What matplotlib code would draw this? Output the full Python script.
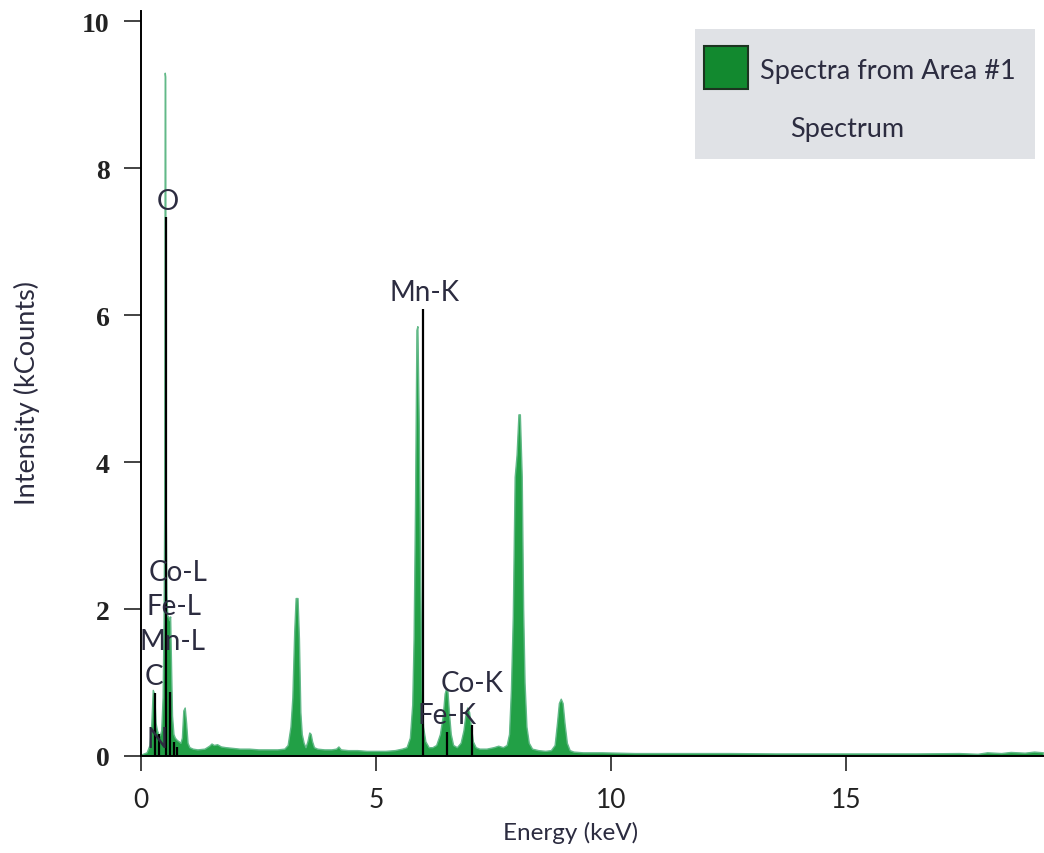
"""
EDS spectrum (Spectra from Area #1) -- intensity vs energy with element markers.
"""

import matplotlib
matplotlib.use("Agg")
import matplotlib.pyplot as plt
from matplotlib.patches import Rectangle

# ---------- Spectrum outline (keV, kCounts) ----------
energy_kev = [
    # C, O, L-lines region
    0.00, 0.12, 0.18, 0.22, 0.25, 0.28, 0.31, 0.34, 0.37, 0.40, 0.43, 0.46, 0.48, 0.495, 0.505, 0.515, 0.525, 0.54, 0.56, 0.58,
    0.60, 0.62, 0.64, 0.66, 0.69, 0.72, 0.76, 0.80, 0.84, 0.87, 0.90, 0.93, 0.96, 0.99, 1.03,
    # background up to the 3.3 keV peak
    1.10, 1.20, 1.35, 1.45, 1.50, 1.55, 1.62, 1.70, 1.80, 1.95, 2.10, 2.30, 2.50, 2.70, 2.90, 3.05,
    # 3.3 keV peak and its shoulder
    3.12, 3.18, 3.22, 3.26, 3.29, 3.33, 3.36, 3.39, 3.42, 3.46, 3.50, 3.54, 3.58, 3.61, 3.64, 3.68, 3.75, 3.90, 4.05, 4.15, 4.20, 4.25,
    # Mn K-alpha
    4.40, 4.60, 4.80, 5.00, 5.20, 5.40, 5.55, 5.65, 5.72, 5.77, 5.80, 5.83, 5.86, 5.88, 5.91, 5.94, 5.97, 6.00, 6.05, 6.12,
    # 6.5 and 6.95 keV peaks
    6.20, 6.28, 6.36, 6.42, 6.46, 6.49, 6.52, 6.55, 6.59, 6.64, 6.72, 6.80, 6.86, 6.90, 6.94, 6.98, 7.02, 7.06, 7.12, 7.20, 7.35,
    # 8.05 keV peak
    7.50, 7.60, 7.70, 7.78, 7.83, 7.87, 7.91, 7.95, 7.99, 8.03, 8.06, 8.10, 8.13, 8.16, 8.20, 8.25, 8.32, 8.45,
    # 8.9 keV peak
    8.60, 8.72, 8.80, 8.85, 8.89, 8.93, 8.97, 9.01, 9.06, 9.12, 9.20, 9.40,
    # tail
    9.80, 10.5, 11.5, 12.5, 13.5, 14.5, 15.5, 16.5, 17.4, 17.8, 18.0, 18.3, 18.5, 18.8, 19.0, 19.19,
]
intensity_kcounts = [
    0.02, 0.05, 0.15, 0.45, 0.90, 0.85, 0.45, 0.35, 0.30, 0.28, 0.35, 0.80, 1.80, 3.40, 9.30, 9.25, 3.40, 2.20, 1.90, 1.90,
    1.85, 1.90, 1.20, 0.55, 0.30, 0.25, 0.22, 0.20, 0.18, 0.25, 0.62, 0.66, 0.45, 0.18, 0.12,
    0.10, 0.09, 0.10, 0.14, 0.17, 0.15, 0.16, 0.13, 0.12, 0.11, 0.10, 0.10, 0.09, 0.09, 0.09, 0.10,
    0.15, 0.40, 0.80, 1.70, 2.15, 2.15, 1.60, 0.60, 0.30, 0.18, 0.12, 0.20, 0.32, 0.30, 0.20, 0.12, 0.10, 0.09, 0.09, 0.10, 0.13, 0.09,
    0.08, 0.08, 0.07, 0.07, 0.07, 0.08, 0.10, 0.12, 0.25, 0.70, 1.60, 3.40, 5.80, 5.85, 4.50, 2.40, 0.90, 0.40, 0.20, 0.12,
    0.12, 0.15, 0.30, 0.55, 0.85, 0.92, 0.88, 0.60, 0.30, 0.15, 0.12, 0.18, 0.35, 0.55, 0.66, 0.60, 0.40, 0.20, 0.12, 0.10, 0.10,
    0.12, 0.14, 0.12, 0.15, 0.30, 0.90, 1.90, 3.80, 4.10, 4.65, 4.65, 3.80, 2.00, 1.00, 0.40, 0.18, 0.10, 0.08,
    0.07, 0.08, 0.15, 0.45, 0.72, 0.78, 0.72, 0.45, 0.18, 0.08, 0.06, 0.05,
    0.05, 0.04, 0.04, 0.04, 0.035, 0.035, 0.035, 0.035, 0.04, 0.03, 0.05, 0.04, 0.055, 0.045, 0.06, 0.05,
]

# ---------- Element marker lines ----------
marker_kev = [0.30, 0.39, 0.53, 0.62, 0.70, 0.77, 5.99, 6.50, 7.05]
marker_height = [0.86, 0.30, 7.33, 0.87, 0.19, 0.12, 6.08, 0.33, 0.42]

# ---------- Element labels ----------
label_text = ["O", "Mn-K", "Co-L", "Fe-L", "Mn-L", "C", "N", "Co-K", "Fe-K"]
label_kev = [0.56, 6.03, 0.79, 0.71, 0.66, 0.28, 0.34, 7.05, 6.52]
label_kcounts = [7.55, 6.31, 2.50, 2.04, 1.56, 1.09, 0.23, 0.99, 0.56]

X_TICKS = [0, 5, 10, 15]
Y_TICKS = [0, 2, 4, 6, 8, 10]

UI = ["Lato", "DejaVu Sans"]
TEXT_COL = "#2c2c40"

fig = plt.figure(figsize=(10.44, 8.54), dpi=100)
ax = fig.add_axes([141 / 1044, 1 - 757 / 854, 902 / 1044, 745 / 854])

ax.fill_between(energy_kev, intensity_kcounts, 0, facecolor="#22a046",
                edgecolor="#62b988", linewidth=1.0, zorder=2)
ax.vlines(marker_kev, 0, marker_height, color="black", linewidth=1.6, zorder=3)

for txt, x, y in zip(label_text, label_kev, label_kcounts):
    ax.text(x, y, txt, ha="center", va="center", fontsize=20,
            family=UI, color=TEXT_COL, zorder=4)

ax.set_xlim(0, 19.19)
ax.set_ylim(0, 10.14)
ax.set_xticks(X_TICKS)
ax.set_yticks(Y_TICKS)
for s in ("top", "right"):
    ax.spines[s].set_visible(False)
for s in ("left", "bottom"):
    ax.spines[s].set_linewidth(1.4)
    ax.spines[s].set_zorder(5)

ax.tick_params(axis="y", direction="out", length=12.5, width=1.2, pad=10,
               labelsize=20, colors="#222222")
ax.tick_params(axis="x", direction="out", length=11, width=1.2, pad=11,
               labelsize=19, colors="#222222")
for lab in ax.get_yticklabels():
    lab.set_family(["Liberation Serif", "DejaVu Serif"])
    lab.set_fontweight("bold")
for lab in ax.get_xticklabels():
    lab.set_family(UI)

ax.set_xlabel("Energy (keV)", fontsize=17.5, family=UI, color=TEXT_COL)
ax.set_ylabel("Intensity (kCounts)", fontsize=19.5, family=UI, color=TEXT_COL)
ax.xaxis.set_label_coords(0.476, -0.102)
ax.xaxis.label.set_va("center")
ax.yaxis.set_label_coords(-0.126, 0.489)
ax.yaxis.label.set_va("center")

# ---------- Legend panel (drawn in figure pixels) ----------
W, H = 1044, 854
fig.patches.append(Rectangle((695 / W, 1 - 160 / H), 340 / W, 130 / H,
                             transform=fig.transFigure, facecolor="#e0e2e6",
                             edgecolor="none", zorder=6))
fig.patches.append(Rectangle((704 / W, 1 - 90 / H), 44 / W, 43 / H,
                             transform=fig.transFigure, facecolor="#12892f",
                             edgecolor="#1c3420", linewidth=1.5, zorder=7))
fig.text(760 / W, 1 - 71 / H, "Spectra from Area #1", ha="left", va="center",
         fontsize=19.5, family=UI, color=TEXT_COL, zorder=8)
fig.text(790 / W, 1 - 130 / H, "Spectrum", ha="left", va="center",
         fontsize=19.5, family=UI, color=TEXT_COL, zorder=8)

fig.savefig("out.png", dpi=100)
